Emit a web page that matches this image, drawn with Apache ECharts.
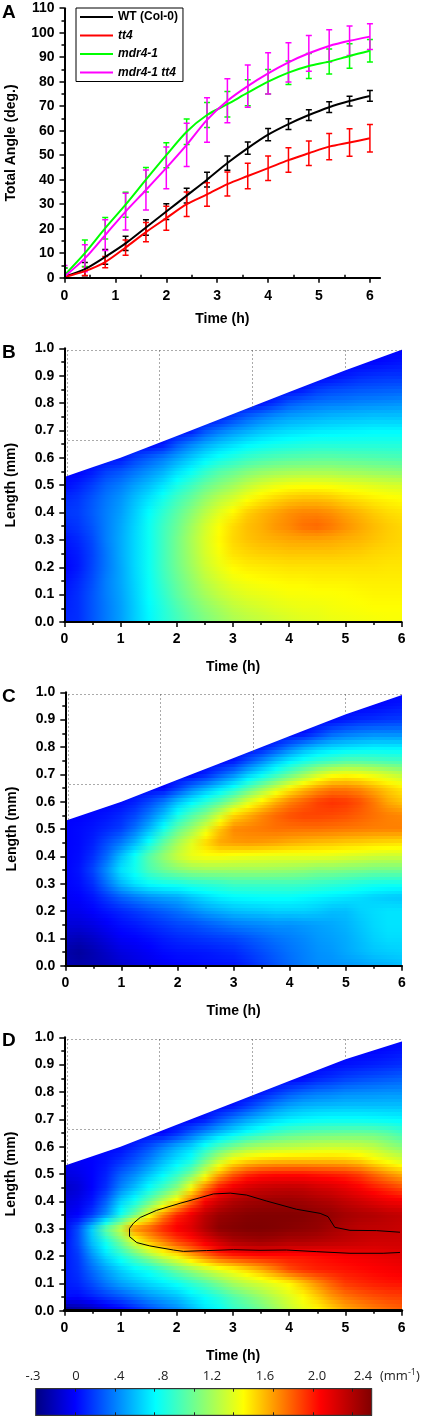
<!DOCTYPE html>
<html>
<head>
<meta charset="utf-8">
<title>Total angle and curvature maps</title>
<style>
  html, body { margin: 0; padding: 0; background: #fff; }
  #chart { width: 428px; height: 1418px; }
</style>
<script src="https://cdn.jsdelivr.net/npm/echarts@6/dist/echarts.min.js"></script>
</head>
<body>
<div id="chart"></div>
<script>
// panel A
const timePoints = [0, 0.4, 0.8, 1.2, 1.6, 2, 2.4, 2.8, 3.2, 3.6, 4, 4.4, 4.8, 5.2, 5.6, 6];
const wtAngle = [0.5, 3.5, 8.5, 14, 20.5, 27, 33.5, 40, 46.8, 52.9, 58.4, 62.7, 66.4, 69.6, 72.1, 74.2];
const wtError = [3.5, 2.7, 3, 2.9, 3.2, 3.2, 3, 3, 2.9, 2.5, 2.5, 2.2, 2.2, 2.2, 2, 2.2];
const tt4Angle = [0.3, 2.7, 6.4, 12.3, 18.6, 24.3, 30, 34, 38.2, 41.5, 44.7, 48, 50.8, 53.5, 55.2, 56.9];
const tt4Error = [0.5, 1.8, 2.3, 3.1, 3.9, 4.9, 5, 4.8, 4.9, 5.2, 5, 5, 5, 5.4, 5.6, 5.6];
const mdrAngle = [1, 10, 20.2, 29.8, 40, 50, 59.6, 66.4, 70.8, 75.5, 80, 83.7, 86.4, 88.2, 90.5, 92.6];
const mdrError = [3, 5.4, 4.4, 5.1, 5, 5.1, 5.2, 5.1, 5.2, 5.3, 5, 4.8, 5.1, 5.1, 5, 4.6];
const dblAngle = [0.5, 7.9, 17.4, 27, 35.8, 44.8, 54.2, 64.4, 72.2, 78.2, 83.4, 87.9, 91.6, 94.6, 96.7, 98.4];
const dblError = [4.5, 5.5, 6.3, 7.5, 8.2, 8.5, 8.8, 9.1, 9, 8.6, 8.4, 8, 7.3, 6.6, 6, 5.3];
const timeTicks = [0, 1, 2, 3, 4, 5, 6];
const timeMinorTicks = [0.5, 1.5, 2.5, 3.5, 4.5, 5.5];

// panels B, C, D: curvature (mm-1) read at these nodes, rows run from 1.0 mm down to 0
const timeNodes = [0, .25, .5, .75, 1, 1.25, 1.5, 1.75, 2, 2.25, 2.5, 2.75, 3, 3.25, 3.5, 3.75, 4, 4.25, 4.5, 4.75, 5, 5.25, 5.5, 5.75, 6];
const lengthNodes = [1, .95, .9, .85, .8, .75, .7, .65, .6, .55, .5, .45, .4, .35, .3, .25, .2, .15, .1, .05, 0];

const wtRows = [
  [0,0,0,0,0,0,0,0,0,0,0,0,0,0,0,0,0,0,0,0,0,0,0,0,0],
  [0,0,0,0,0,0,0,0,0,0,0,0,0,0,0,0,0,0,0,0,0,0,.01,.03,.05],
  [0,0,0,0,0,0,0,0,0,0,0,0,0,0,0,0,0,0,0,.02,.06,.1,.12,.13,.13],
  [0,0,0,0,0,0,0,0,0,0,0,0,0,0,0,0,.02,.06,.14,.18,.2,.22,.23,.24,.25],
  [0,0,0,0,0,0,0,0,0,0,0,0,0,0,.03,.12,.22,.27,.3,.32,.33,.35,.36,.37,.38],
  [0,0,0,0,0,0,0,0,0,0,0,.05,.15,.25,.32,.38,.42,.44,.46,.48,.49,.5,.51,.51,.51],
  [0,0,0,0,0,0,0,0,0,.05,.2,.3,.38,.44,.5,.54,.57,.59,.61,.62,.63,.64,.65,.65,.65],
  [0,0,0,0,0,0,0,.05,.22,.34,.44,.52,.58,.64,.68,.71,.73,.75,.76,.76,.76,.76,.76,.76,.76],
  [0,0,0,.02,.05,.16,.24,.32,.42,.52,.62,.7,.76,.82,.86,.89,.91,.92,.93,.93,.92,.91,.9,.89,.88],
  [0,0,.06,.16,.22,.3,.38,.46,.58,.68,.8,.9,.96,1.03,1.08,1.11,1.13,1.14,1.14,1.14,1.12,1.11,1.09,1.08,1.06],
  [.02,.08,.16,.26,.33,.42,.5,.6,.73,.84,.96,1.05,1.13,1.22,1.29,1.34,1.37,1.38,1.38,1.37,1.35,1.33,1.31,1.29,1.28],
  [.1,.14,.22,.31,.39,.5,.6,.72,.85,.96,1.09,1.2,1.28,1.38,1.45,1.5,1.54,1.56,1.56,1.54,1.5,1.47,1.44,1.42,1.4],
  [.14,.16,.24,.33,.42,.54,.67,.8,.93,1.06,1.2,1.32,1.42,1.52,1.58,1.63,1.68,1.71,1.71,1.68,1.63,1.58,1.53,1.49,1.47],
  [.1,.14,.22,.33,.44,.56,.7,.84,.97,1.12,1.27,1.39,1.49,1.56,1.6,1.66,1.7,1.76,1.78,1.74,1.68,1.62,1.57,1.53,1.5],
  [.05,.1,.19,.33,.45,.57,.7,.85,1,1.15,1.29,1.41,1.5,1.55,1.58,1.6,1.62,1.63,1.63,1.62,1.6,1.58,1.55,1.52,1.5],
  [.02,.07,.17,.31,.45,.57,.7,.85,1,1.14,1.28,1.38,1.47,1.5,1.52,1.53,1.54,1.54,1.54,1.54,1.53,1.52,1.5,1.49,1.48],
  [0,.06,.18,.31,.44,.57,.7,.85,.99,1.12,1.25,1.34,1.41,1.44,1.45,1.46,1.47,1.47,1.47,1.47,1.47,1.47,1.47,1.46,1.46],
  [.03,.1,.2,.33,.44,.56,.69,.83,.96,1.08,1.2,1.28,1.35,1.38,1.4,1.41,1.42,1.42,1.43,1.43,1.43,1.44,1.44,1.44,1.44],
  [.06,.12,.22,.33,.43,.55,.68,.8,.93,1.04,1.14,1.22,1.28,1.32,1.34,1.36,1.38,1.38,1.39,1.39,1.4,1.41,1.42,1.42,1.42],
  [.08,.12,.22,.32,.42,.54,.66,.77,.88,.98,1.07,1.14,1.21,1.25,1.28,1.31,1.33,1.35,1.35,1.37,1.38,1.39,1.4,1.4,1.4],
  [.1,.12,.22,.32,.42,.54,.65,.76,.85,.94,1.02,1.09,1.15,1.19,1.22,1.25,1.28,1.3,1.32,1.34,1.35,1.36,1.37,1.38,1.38],
];
const tt4Rows = [
  [0,0,0,0,0,0,0,0,0,0,0,0,0,0,0,0,0,0,0,0,0,0,0,0,0],
  [0,0,0,0,0,0,0,0,0,0,0,0,0,0,0,0,0,0,0,0,0,0,.01,.04,.06],
  [0,0,0,0,0,0,0,0,0,0,0,0,0,0,0,0,0,0,0,.02,.06,.1,.12,.14,.15],
  [0,0,0,0,0,0,0,0,0,0,0,0,0,0,0,0,0,.03,.14,.25,.3,.33,.35,.35,.35],
  [0,0,0,0,0,0,0,0,0,0,0,0,0,0,.04,.16,.3,.42,.5,.55,.58,.6,.62,.62,.62],
  [0,0,0,0,0,0,0,0,0,0,0,0,.05,.2,.35,.5,.62,.72,.8,.85,.9,.9,.88,.86,.85],
  [0,0,0,0,0,0,0,0,0,0,.08,.22,.35,.52,.65,.8,.95,1.1,1.25,1.35,1.38,1.36,1.32,1.26,1.2],
  [0,0,0,0,0,0,0,0,.15,.32,.45,.58,.72,.9,1.08,1.25,1.42,1.55,1.65,1.72,1.72,1.68,1.6,1.52,1.45],
  [0,0,0,0,.02,.08,.18,.32,.5,.64,.78,.92,1.1,1.3,1.45,1.6,1.72,1.8,1.88,1.92,1.9,1.84,1.74,1.62,1.55],
  [0,0,.02,.05,.1,.18,.32,.5,.72,.9,1.05,1.27,1.5,1.6,1.7,1.78,1.84,1.87,1.87,1.86,1.84,1.8,1.76,1.72,1.7],
  [0,.02,.05,.1,.16,.3,.48,.72,.95,1.12,1.32,1.55,1.7,1.72,1.74,1.76,1.76,1.76,1.76,1.75,1.74,1.73,1.72,1.72,1.72],
  [0,.02,.08,.2,.32,.48,.7,.95,1.15,1.32,1.5,1.62,1.65,1.66,1.65,1.63,1.6,1.58,1.56,1.55,1.53,1.52,1.5,1.49,1.48],
  [0,.03,.12,.28,.5,.7,.92,1.1,1.25,1.35,1.38,1.38,1.36,1.35,1.34,1.33,1.33,1.33,1.33,1.32,1.3,1.28,1.26,1.25,1.25],
  [0,.05,.18,.38,.6,.72,.88,.98,1.05,1.1,1.12,1.12,1.12,1.12,1.12,1.11,1.1,1.08,1.05,1.05,1.03,1.02,1,1,1],
  [0,.03,.12,.3,.48,.6,.68,.72,.74,.78,.8,.82,.85,.85,.85,.85,.85,.84,.82,.8,.78,.75,.73,.72,.72],
  [-.02,0,.05,.15,.25,.32,.38,.42,.45,.52,.58,.63,.66,.67,.68,.68,.68,.66,.64,.62,.6,.58,.55,.53,.52],
  [-.05,-.04,0,.05,.1,.15,.2,.25,.3,.36,.42,.46,.5,.52,.53,.55,.55,.55,.53,.5,.5,.55,.58,.6,.6],
  [-.1,-.1,-.07,-.02,.03,.06,.1,.14,.18,.2,.24,.28,.32,.34,.36,.38,.38,.4,.42,.44,.47,.52,.57,.6,.6],
  [-.16,-.18,-.14,-.08,-.02,0,.03,.07,.1,.12,.14,.16,.18,.22,.26,.3,.33,.36,.4,.42,.45,.5,.55,.58,.58],
  [-.22,-.25,-.2,-.14,-.08,-.05,-.02,.02,.04,.05,.06,.08,.1,.15,.2,.25,.3,.34,.38,.4,.44,.48,.52,.54,.55],
  [-.2,-.22,-.2,-.17,-.12,-.08,-.05,-.02,0,.01,.03,.04,.05,.1,.16,.22,.28,.33,.37,.38,.4,.42,.45,.47,.5],
];
const dblRows = [
  [0,0,0,0,0,0,0,0,0,0,0,0,0,0,0,0,0,0,0,0,0,0,0,0,0],
  [0,0,0,0,0,0,0,0,0,0,0,0,0,0,0,0,0,0,0,0,0,0,.01,.03,.05],
  [0,0,0,0,0,0,0,0,0,0,0,0,0,0,0,0,0,0,0,.01,.04,.06,.08,.1,.12],
  [0,0,0,0,0,0,0,0,0,0,0,0,0,0,0,0,0,.02,.08,.12,.16,.19,.21,.23,.25],
  [0,0,0,0,0,0,0,0,0,0,0,0,0,0,.04,.12,.2,.26,.3,.32,.35,.36,.37,.38,.38],
  [0,0,0,0,0,0,0,0,0,0,0,0,.04,.14,.25,.35,.42,.46,.48,.49,.5,.5,.5,.5,.5],
  [0,0,0,0,0,0,0,0,0,0,.06,.2,.32,.42,.5,.57,.62,.65,.67,.68,.68,.68,.67,.66,.65],
  [0,0,0,0,0,0,0,0,.1,.25,.38,.5,.6,.7,.78,.85,.9,.93,.95,.96,.97,.97,.96,.92,.85],
  [0,0,0,0,.02,.1,.2,.33,.45,.55,.72,.88,1,1.1,1.15,1.18,1.2,1.22,1.24,1.25,1.25,1.24,1.2,1.12,1.05],
  [-.05,-.02,0,.04,.12,.22,.34,.48,.6,.72,.98,1.22,1.4,1.48,1.52,1.54,1.55,1.55,1.55,1.55,1.54,1.5,1.42,1.35,1.28],
  [-.08,-.05,0,.08,.25,.36,.5,.64,.8,1,1.3,1.6,1.8,1.92,1.98,2,2,2,1.98,1.96,1.94,1.88,1.78,1.68,1.6],
  [-.15,-.1,0,.12,.35,.5,.68,.85,1.05,1.38,1.72,1.98,2.1,2.18,2.22,2.24,2.25,2.24,2.2,2.17,2.12,2.05,1.98,1.92,1.85],
  [-.1,-.05,.05,.25,.55,.72,.95,1.2,1.45,1.78,2.05,2.2,2.3,2.35,2.37,2.38,2.38,2.36,2.33,2.3,2.25,2.2,2.15,2.1,2.08],
  [-.05,0,.15,.38,.72,1,1.35,1.7,1.95,2.1,2.27,2.38,2.42,2.45,2.46,2.46,2.46,2.45,2.42,2.4,2.35,2.32,2.3,2.27,2.25],
  [-.02,.2,.55,.95,1.25,1.7,1.8,1.95,2.06,2.15,2.3,2.42,2.45,2.47,2.47,2.46,2.44,2.42,2.4,2.35,2.3,2.26,2.25,2.24,2.22],
  [.02,.2,.5,.72,1,1.3,1.55,1.7,1.85,1.95,2.08,2.2,2.3,2.33,2.35,2.33,2.3,2.3,2.28,2.26,2.24,2.22,2.2,2.2,2.2],
  [.05,.15,.38,.58,.75,.92,1.1,1.28,1.42,1.6,1.75,1.88,1.95,1.98,2,2,2,2,2.02,2.04,2.06,2.08,2.1,2.12,2.14],
  [.06,.13,.28,.42,.55,.65,.72,.84,.98,1.1,1.22,1.32,1.4,1.5,1.6,1.72,1.85,1.92,1.96,1.98,2,2.02,2.04,2.06,2.08],
  [.06,.1,.2,.32,.43,.5,.57,.63,.7,.8,.9,1.02,1.14,1.22,1.28,1.35,1.42,1.55,1.68,1.8,1.9,1.94,1.97,1.99,2],
  [.03,.02,.08,.15,.22,.3,.38,.44,.5,.6,.68,.78,.9,1,1.1,1.2,1.3,1.4,1.52,1.65,1.74,1.8,1.84,1.87,1.88],
  [-.3,-.25,-.2,-.1,-.02,.08,.18,.27,.35,.47,.6,.67,.8,.88,.98,1.1,1.22,1.32,1.4,1.5,1.6,1.66,1.72,1.76,1.8],
];

// upper limit of the measured region
const edgeTimes = [0, .5, 1, 2, 3, 4, 5, 6];
const wtEdge = [.53, .565, .6, .68, .76, .84, .92, .995];
const tt4Edge = [.53, .565, .6, .68, .76, .84, .92, .99];
const dblEdge = [.53, .565, .6, .68, .76, .84, .92, .985];

// dotted guide lines left over the blank corner: [t1, L1, t2, L2]
const guideLines = [
  [.04, .995, 6, .995], [.04, .995, .04, .53], [0, .666, 1.69, .666],
  [1.69, .995, 1.69, .666], [3.34, .995, 3.34, .78], [4.99, .995, 4.99, .92],
];

// black contour in panel D
const contourTime = [5.97, 5.55, 5.08, 4.81, 4.69, 4.55, 4.13, 3.6, 3.24, 2.95, 2.65, 2.41, 2.06, 1.64, 1.35, 1.23, 1.16, 1.16, 1.29, 1.52, 1.94, 2.12, 2.53, 3.01, 3.48, 3.95, 4.49, 5.08, 5.67, 5.97];
const contourLength = [.287, .293, .294, .305, .344, .356, .371, .401, .423, .43, .427, .413, .393, .367, .341, .32, .301, .271, .249, .237, .222, .217, .22, .223, .221, .222, .216, .21, .21, .213];

// colour bar
const colorLevels = [-.33, 0, .67, 1.4, 2.04, 2.47];
const colorValues = ["#00007f", "#0000ff", "#00ffff", "#ffff00", "#ff0000", "#7f0000"];
const barTicks = [0, .33, .66, .99, 1.32, 1.65, 1.98, 2.31];
const barLabels = ["-.3", "0", ".4", ".8", "1.2", "1.6", "2.0", "2.4"];
const barLabelX = [33, 76, 119, 163, 212, 265, 317, 363];

const FONT = "Liberation Sans, Arial, sans-serif";

const chart = echarts.init(document.getElementById("chart"));

const hexToRgb = hex => [1, 3, 5].map(i => parseInt(hex.slice(i, i + 2), 16));
const levelRgb = colorValues.map(hexToRgb);

const valueColor = v => {
  if (v <= colorLevels[0]) return colorValues[0];
  for (let i = 1; i < colorLevels.length; i++) {
    if (v <= colorLevels[i]) {
      const k = (v - colorLevels[i - 1]) / (colorLevels[i] - colorLevels[i - 1]);
      const a = levelRgb[i - 1];
      const b = levelRgb[i];
      return `rgb(${a.map((c, n) => Math.round(c + (b[n] - c) * k)).join(",")})`;
    }
  }
  return colorValues[colorValues.length - 1];
};

// one item per cell: t0, L0, t1, L1 and the four corner values
const buildCells = rows => {
  const cells = [];
  for (let r = 0; r < lengthNodes.length - 1; r++) {
    for (let c = 0; c < timeNodes.length - 1; c++) {
      cells.push([timeNodes[c], lengthNodes[r + 1], timeNodes[c + 1], lengthNodes[r],
        rows[r][c], rows[r][c + 1], rows[r + 1][c], rows[r + 1][c + 1]]);
    }
  }
  return cells;
};

// shade a cell from its corners, a few gradient strips top to bottom
const STRIPS = 4;
const renderCell = (params, api) => {
  const p0 = api.coord([api.value(0), api.value(1)]);
  const p1 = api.coord([api.value(2), api.value(3)]);
  const x = Math.round(p0[0]);
  const width = Math.round(p1[0]) - x;
  const children = [];
  for (let s = 0; s < STRIPS; s++) {
    const y0 = Math.round(p1[1] + (p0[1] - p1[1]) * s / STRIPS);
    const y1 = Math.round(p1[1] + (p0[1] - p1[1]) * (s + 1) / STRIPS);
    if (y1 <= y0) continue;
    const k = (s + 0.5) / STRIPS;
    const left = api.value(4) + (api.value(6) - api.value(4)) * k;
    const right = api.value(5) + (api.value(7) - api.value(5)) * k;
    children.push({
      type: "rect",
      shape: { x, y: y0, width, height: y1 - y0 },
      style: {
        fill: new echarts.graphic.LinearGradient(0, 0, 1, 0, [
          { offset: 0, color: valueColor(left) },
          { offset: 1, color: valueColor(right) },
        ]),
      },
    });
  }
  return { type: "group", children };
};

const heatSeries = (rows, axis) => ({
  type: "custom",
  xAxisIndex: axis.x,
  yAxisIndex: axis.y,
  z: 1,
  silent: true,
  progressive: 0,
  encode: { x: [0, 2], y: [1, 3] },
  data: buildCells(rows),
  renderItem: renderCell,
});

const blankSeries = (edge, axis) => ({
  type: "custom",
  xAxisIndex: axis.x,
  yAxisIndex: axis.y,
  z: 2,
  silent: true,
  clip: false,
  data: [[0, 1]],
  renderItem: (params, api) => {
    const points = edgeTimes.map((t, i) => api.coord([t, edge[i]]));
    const topRight = api.coord([6, 1]);
    const topLeft = api.coord([0, 1]);
    points.push([topRight[0] + 2, points[points.length - 1][1]], [topRight[0] + 2, topRight[1] - 2], [topLeft[0], topLeft[1] - 2]);
    return { type: "polygon", shape: { points }, style: { fill: "#fff" } };
  },
});

const guideSeries = axis => ({
  type: "custom",
  xAxisIndex: axis.x,
  yAxisIndex: axis.y,
  z: 3,
  silent: true,
  data: guideLines,
  renderItem: (params, api) => {
    const a = api.coord([api.value(0), api.value(1)]);
    const b = api.coord([api.value(2), api.value(3)]);
    return {
      type: "line",
      shape: {
        x1: Math.round(a[0]) + 0.5,
        y1: Math.round(a[1]) + 0.5,
        x2: Math.round(b[0]) + 0.5,
        y2: Math.round(b[1]) + 0.5,
      },
      style: { stroke: "#555", lineWidth: 1, lineDash: [1, 3] },
    };
  },
});

const errorSeries = (name, color, values, errors) => ({
  type: "custom",
  name: name + " error",
  xAxisIndex: 0,
  yAxisIndex: 0,
  z: 2,
  silent: true,
  clip: true,
  data: timePoints.map((t, i) => [t, values[i] - errors[i], values[i] + errors[i]]),
  encode: { x: 0, y: [1, 2] },
  renderItem: (params, api) => {
    const low = api.coord([api.value(0), api.value(1)]);
    const high = api.coord([api.value(0), api.value(2)]);
    const style = { stroke: color, lineWidth: 1.5 };
    const line = (x1, y1, x2, y2) => ({ type: "line", shape: { x1, y1, x2, y2 }, style });
    return {
      type: "group",
      children: [
        line(low[0], low[1], high[0], high[1]),
        line(low[0] - 3, low[1], low[0] + 3, low[1]),
        line(high[0] - 3, high[1], high[0] + 3, high[1]),
      ],
    };
  },
});

const lineSeries = (name, color, values) => ({
  type: "line",
  name,
  xAxisIndex: 0,
  yAxisIndex: 0,
  z: 2,
  smooth: 0.3,
  symbol: "none",
  itemStyle: { color },
  lineStyle: { color, width: 2 },
  data: timePoints.map((t, i) => [t, values[i]]),
});

const labelStyle = { color: "#000", fontFamily: FONT, fontWeight: "bold", fontSize: 14 };

const timeAxis = (gridIndex, lineWidth) => ({
  type: "value",
  gridIndex,
  min: 0,
  max: 6,
  interval: 1,
  z: 5,
  name: "Time (h)",
  nameLocation: "middle",
  nameGap: 38,
  nameTextStyle: labelStyle,
  axisLine: { onZero: false, lineStyle: { color: "#000", width: lineWidth } },
  axisTick: { length: 5, lineStyle: { color: "#000", width: 1.5 } },
  minorTick: { show: true, splitNumber: 2, length: 3, lineStyle: { color: "#000", width: 1.5 } },
  axisLabel: { ...labelStyle, margin: 10 },
  splitLine: { show: false },
});

const lengthAxis = gridIndex => ({
  type: "value",
  gridIndex,
  min: 0,
  max: 1,
  interval: 0.1,
  z: 5,
  name: "Length (mm)",
  nameLocation: "middle",
  nameGap: 46,
  nameTextStyle: labelStyle,
  axisLine: { onZero: false, lineStyle: { color: "#000", width: 2 } },
  axisTick: { length: 5, lineStyle: { color: "#000", width: 1.5 } },
  minorTick: { show: true, splitNumber: 2, length: 3, lineStyle: { color: "#000", width: 1.5 } },
  axisLabel: { ...labelStyle, margin: 10, formatter: v => v.toFixed(1) },
  splitLine: { show: false },
});

const barAxis = position => ({
  type: "value",
  gridIndex: 4,
  position,
  min: colorLevels[0],
  max: colorLevels[colorLevels.length - 1],
  z: 5,
  axisLine: { onZero: false, lineStyle: { color: "#333", width: 1 } },
  axisTick: { inside: true, length: 3, customValues: barTicks, lineStyle: { color: "#222", width: 1 } },
  axisLabel: { show: false },
  splitLine: { show: false },
});

const panelLetter = (text, x, y) => ({
  type: "text",
  x,
  y,
  style: { text, fill: "#000", font: `bold 19px ${FONT}` },
});

const panelNote = (text, x, y, italic) => ({
  type: "text",
  x,
  y,
  style: { text, fill: "#222", font: `${italic ? "italic " : ""}14px ${FONT}` },
});

const legendNames = ["WT (Col-0)", "tt4", "mdr4-1", "mdr4-1 tt4"];

const option = {
  animation: false,
  backgroundColor: "#fff",
  grid: [
    { left: 64.5, top: 8.2, width: 315.6, height: 269.5, outerBoundsMode: "none" },
    { left: 64.3, top: 348.3, width: 337.4, height: 273.7, outerBoundsMode: "none" },
    { left: 65.3, top: 692.3, width: 336.7, height: 273.4, outerBoundsMode: "none" },
    { left: 64.3, top: 1037.3, width: 337.4, height: 273.4, outerBoundsMode: "none" },
    { left: 35.7, top: 1388.7, width: 336, height: 26.6, outerBoundsMode: "none" },
  ],
  xAxis: [
    {
      type: "value",
      gridIndex: 0,
      min: 0,
      max: 6.2,
      z: 5,
      name: "Time (h)",
      nameLocation: "middle",
      nameGap: 34,
      nameTextStyle: labelStyle,
      axisLine: { onZero: false, lineStyle: { color: "#000", width: 2 } },
      axisTick: { length: 5, customValues: timeTicks, lineStyle: { color: "#000", width: 1.5 } },
      axisLabel: { ...labelStyle, margin: 11, customValues: timeTicks },
      splitLine: { show: false },
    },
    {
      type: "value",
      gridIndex: 0,
      min: 0,
      max: 6.2,
      axisLine: { show: false },
      axisTick: { length: 3, customValues: timeMinorTicks, lineStyle: { color: "#000", width: 1.5 } },
      axisLabel: { show: false },
      splitLine: { show: false },
    },
    timeAxis(1, 2),
    timeAxis(2, 2),
    timeAxis(3, 3),
    barAxis("top"),
    barAxis("bottom"),
  ],
  yAxis: [
    {
      type: "value",
      gridIndex: 0,
      min: 0,
      max: 110,
      interval: 10,
      z: 5,
      name: "Total Angle (deg.)",
      nameLocation: "middle",
      nameGap: 46,
      nameTextStyle: labelStyle,
      axisLine: { onZero: false, lineStyle: { color: "#000", width: 2 } },
      axisTick: { length: 5, lineStyle: { color: "#000", width: 1.5 } },
      minorTick: { show: true, splitNumber: 2, length: 3, lineStyle: { color: "#000", width: 1.5 } },
      axisLabel: { ...labelStyle, margin: 10 },
      splitLine: { show: false },
    },
    lengthAxis(1),
    lengthAxis(2),
    lengthAxis(3),
    { type: "value", gridIndex: 4, min: 0, max: 1, show: false },
  ],
  legend: {
    left: 76,
    top: 8,
    orient: "vertical",
    icon: "rect",
    itemWidth: 33,
    itemHeight: 2,
    itemGap: 6.5,
    padding: [3, 5, 3, 4],
    borderColor: "#000",
    borderWidth: 1,
    selectedMode: false,
    textStyle: { color: "#000", fontFamily: FONT, fontWeight: "bold", fontSize: 12 },
    data: legendNames.map((name, i) => ({
      name,
      textStyle: i === 0 ? {} : { fontStyle: "italic" },
    })),
  },
  graphic: [
    panelLetter("A", 2, 3),
    panelLetter("B", 2, 343),
    panelLetter("C", 2, 687),
    panelLetter("D", 2, 1031),
    panelNote("WT (Col-0)", 116, 371, false),
    panelNote("tt4", 132, 720, true),
    panelNote("mdr4-1 tt4", 109, 1074, true),
    ...barLabels.map((text, i) => ({
      type: "text",
      x: barLabelX[i],
      y: 1376,
      style: { text, fill: "#222", font: "13px Open Sans, sans-serif", align: "center", verticalAlign: "middle" },
    })),
    {
      type: "text",
      x: 380,
      y: 1376,
      style: {
        text: "(mm{s|-1})",
        fill: "#222",
        font: "13px Open Sans, sans-serif",
        verticalAlign: "middle",
        rich: { s: { fontSize: 9, fill: "#222", verticalAlign: "top", lineHeight: 16, fontFamily: "Open Sans" } },
      },
    },
  ],
  series: [
    errorSeries(legendNames[0], "#000000", wtAngle, wtError),
    lineSeries(legendNames[0], "#000000", wtAngle),
    errorSeries(legendNames[1], "#ff0000", tt4Angle, tt4Error),
    lineSeries(legendNames[1], "#ff0000", tt4Angle),
    errorSeries(legendNames[2], "#00ff00", mdrAngle, mdrError),
    lineSeries(legendNames[2], "#00ff00", mdrAngle),
    errorSeries(legendNames[3], "#ff00ff", dblAngle, dblError),
    lineSeries(legendNames[3], "#ff00ff", dblAngle),

    heatSeries(wtRows, { x: 2, y: 1 }),
    blankSeries(wtEdge, { x: 2, y: 1 }),
    guideSeries({ x: 2, y: 1 }),

    heatSeries(tt4Rows, { x: 3, y: 2 }),
    blankSeries(tt4Edge, { x: 3, y: 2 }),
    guideSeries({ x: 3, y: 2 }),

    heatSeries(dblRows, { x: 4, y: 3 }),
    blankSeries(dblEdge, { x: 4, y: 3 }),
    guideSeries({ x: 4, y: 3 }),
    {
      type: "line",
      name: "contour",
      xAxisIndex: 4,
      yAxisIndex: 3,
      z: 4,
      symbol: "none",
      silent: true,
      lineStyle: { color: "#000", width: 1 },
      data: contourTime.map((t, i) => [t, contourLength[i]]),
    },
    {
      type: "custom",
      name: "colour bar",
      xAxisIndex: 5,
      yAxisIndex: 4,
      silent: true,
      z: 1,
      data: [[colorLevels[0], 0, colorLevels[colorLevels.length - 1], 1]],
      renderItem: (params, api) => {
        const p0 = api.coord([api.value(0), api.value(1)]);
        const p1 = api.coord([api.value(2), api.value(3)]);
        const span = api.value(2) - api.value(0);
        const stops = colorLevels.map((v, i) => ({ offset: (v - api.value(0)) / span, color: colorValues[i] }));
        return {
          type: "rect",
          shape: { x: p0[0], y: p1[1], width: p1[0] - p0[0], height: p0[1] - p1[1] },
          style: { fill: new echarts.graphic.LinearGradient(0, 0, 1, 0, stops), stroke: "#333", lineWidth: 1 },
        };
      },
    },
  ],
};

chart.setOption(option);

window.addEventListener("resize", () => chart.resize());
</script>
</body>
</html>
